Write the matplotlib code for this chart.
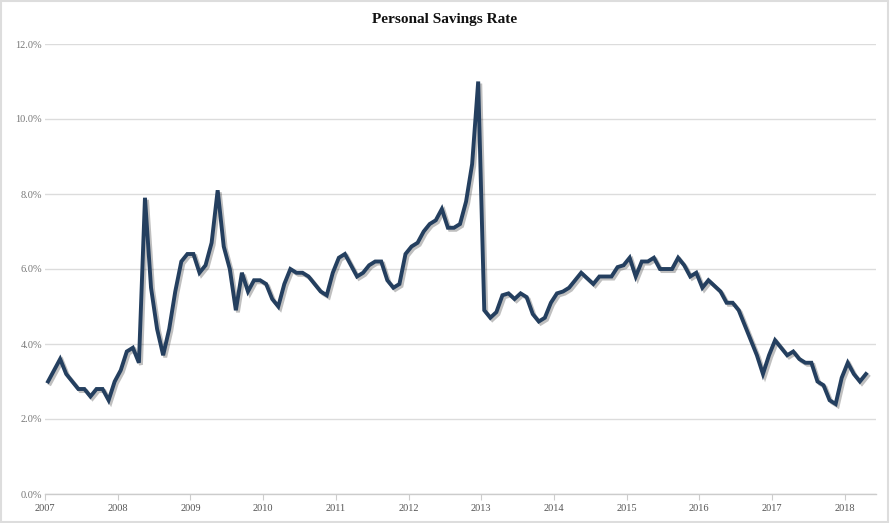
import numpy as np
import matplotlib
matplotlib.use("Agg")
import matplotlib.pyplot as plt
import matplotlib.patheffects as pe
from matplotlib.patches import Rectangle

# ===================== DATA =====================
start_year = 2007
savings_rate = [
    # 2007
    3.0, 3.3, 3.6, 3.2, 3.0, 2.8, 2.8, 2.6, 2.8, 2.8, 2.5, 3.0,
    # 2008
    3.3, 3.8, 3.9, 3.5, 7.9, 5.5, 4.4, 3.7, 4.4, 5.4, 6.2, 6.4,
    # 2009
    6.4, 5.9, 6.1, 6.7, 8.1, 6.6, 6.0, 4.9, 5.9, 5.4, 5.7, 5.7,
    # 2010
    5.6, 5.2, 5.0, 5.6, 6.0, 5.9, 5.9, 5.8, 5.6, 5.4, 5.3, 5.9,
    # 2011
    6.3, 6.4, 6.1, 5.8, 5.9, 6.1, 6.2, 6.2, 5.7, 5.5, 5.6, 6.4,
    # 2012
    6.6, 6.7, 7.0, 7.2, 7.3, 7.6, 7.1, 7.1, 7.2, 7.8, 8.8, 11.0,
    # 2013
    4.9, 4.7, 4.85, 5.3, 5.35, 5.2, 5.35, 5.25, 4.8, 4.6, 4.7, 5.1,
    # 2014
    5.35, 5.4, 5.5, 5.7, 5.9, 5.75, 5.6, 5.8, 5.8, 5.8, 6.05, 6.1,
    # 2015
    6.3, 5.8, 6.2, 6.2, 6.3, 6.0, 6.0, 6.0, 6.3, 6.1, 5.8, 5.9,
    # 2016
    5.5, 5.7, 5.55, 5.4, 5.1, 5.1, 4.9, 4.5, 4.1, 3.7, 3.2, 3.7,
    # 2017
    4.1, 3.9, 3.7, 3.8, 3.6, 3.5, 3.5, 3.0, 2.9, 2.5, 2.4, 3.1,
    # 2018
    3.5, 3.2, 3.0, 3.2,
]
year_ticks = list(range(2007, 2019))
y_ticks = [0, 2, 4, 6, 8, 10, 12]

# monthly points, placed mid-month
t = start_year + (np.arange(len(savings_rate)) + 0.5) / 12.0

# ===================== PLOT =====================
fig = plt.figure(figsize=(8.9, 5.23), dpi=100)
ax = fig.add_axes([45/890, 1 - 494/523, (876 - 45)/890, (494 - 44)/523])

ax.plot(t, savings_rate, color="#243f5f", lw=2.8, solid_joinstyle="miter",
        zorder=3,
        path_effects=[pe.SimpleLineShadow(offset=(1.5, -1.5), alpha=0.25),
                      pe.Normal()])

ax.set_xlim(2007, 2018.43)
ax.set_ylim(0, 12)
ax.set_yticks(y_ticks)
ax.set_yticklabels([f"{v:.1f}%" for v in y_ticks])
ax.set_xticks(year_ticks)
ax.set_xticklabels([str(y) for y in year_ticks])

ax.grid(axis="y", color="#dcdcdc", lw=1)
ax.set_axisbelow(True)
for s in ["left", "right", "top"]:
    ax.spines[s].set_visible(False)
ax.spines["bottom"].set_color("#cccccc")
ax.spines["bottom"].set_linewidth(1)

ax.tick_params(axis="y", length=0, pad=2, labelsize=7.5, labelcolor="#777777")
ax.tick_params(axis="x", length=4, width=0.8, color="#cccccc", pad=3,
               labelsize=7.5, labelcolor="#555555")
for lab in ax.get_xticklabels() + ax.get_yticklabels():
    lab.set_fontfamily("Liberation Serif")

fig.text(0.5, 1 - 20/523, "Personal Savings Rate", ha="center", va="center",
         fontsize=11, fontweight="bold", family="Liberation Serif", color="#111111")

fig.patches.append(Rectangle((0.001, 0.002), 0.997, 0.996, transform=fig.transFigure,
                             fill=False, edgecolor="#dddddd", lw=1.5))

fig.savefig("out.png", dpi=100)
